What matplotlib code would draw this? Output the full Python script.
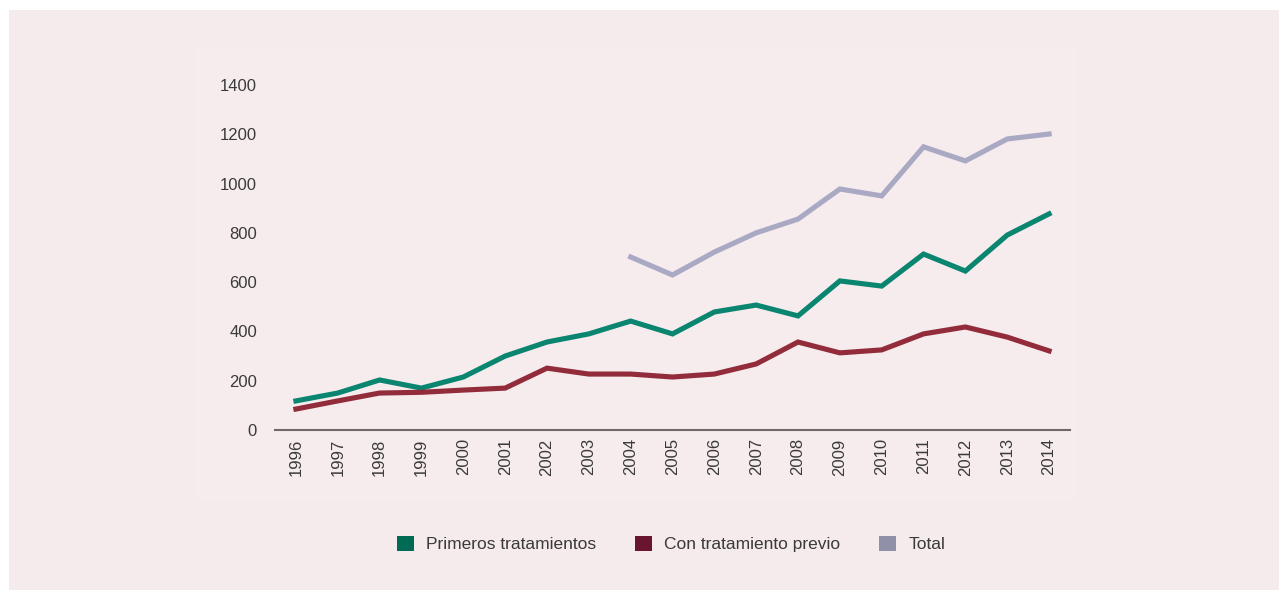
import numpy as np
import matplotlib.pyplot as plt
from matplotlib.patches import Patch, Rectangle

years = list(range(1996, 2015))
primeros = [118, 150, 203, 170, 215, 300, 357, 390, 442, 390, 479, 507, 463, 605, 584, 714, 645, 791, 877]
previo = [85, 118, 150, 153, 162, 170, 251, 227, 227, 215, 227, 268, 357, 313, 325, 390, 418, 377, 321]
total_years = list(range(2004, 2015))
total = [702, 629, 722, 800, 856, 978, 950, 1149, 1092, 1181, 1201]

c_green = "#0a8570"
c_red = "#922c3b"
c_gray = "#a9a9c4"
txt = "#3a3a3a"

W, H = 1284, 592
fig = plt.figure(figsize=(W / 100, H / 100), dpi=100)
fig.patch.set_facecolor("white")
fig.add_artist(Rectangle((9 / W, 1 - 590 / H), 1270 / W, 580 / H,
                         transform=fig.transFigure, facecolor="#f5eaec",
                         edgecolor="none", zorder=-2))
fig.add_artist(Rectangle((196 / W, 1 - 500 / H), 880 / W, 452 / H,
                         transform=fig.transFigure, facecolor="#f6ecee",
                         edgecolor="none", zorder=-1))

ax = fig.add_axes([275 / W, 1 - 430 / H, 795 / W, 345 / H])
ax.set_facecolor("none")

ax.plot(years, primeros, color=c_green, lw=3.7, solid_joinstyle="miter")
ax.plot(years, previo, color=c_red, lw=3.7, solid_joinstyle="miter")
ax.plot(total_years, total, color=c_gray, lw=3.7, solid_joinstyle="miter")

ax.set_xlim(1995.5, 2014.5)
ax.set_ylim(0, 1400)
ax.set_yticks(range(0, 1401, 200))
ax.set_xticks(years)
ax.set_xticklabels([str(y) for y in years], rotation=90)
for s in ["top", "right", "left"]:
    ax.spines[s].set_visible(False)
ax.spines["bottom"].set_color("#6e6868")
ax.spines["bottom"].set_linewidth(1.5)
ax.tick_params(axis="both", length=0, labelsize=12, labelcolor=txt)
ax.tick_params(axis="y", pad=13)
ax.tick_params(axis="x", pad=6)
for lab in ax.get_xticklabels() + ax.get_yticklabels():
    lab.set_family("Liberation Sans")

handles = [Patch(facecolor="#006b55", label="Primeros tratamientos"),
           Patch(facecolor="#6a1530", label="Con tratamiento previo"),
           Patch(facecolor="#9090a8", label="Total")]
leg = fig.legend(handles=handles, loc="center", ncol=3,
                 bbox_to_anchor=(671 / W, 1 - 544 / H), frameon=False,
                 prop={"family": "Liberation Sans", "size": 12.5},
                 handlelength=1.0, handleheight=1.0, columnspacing=2.2,
                 handletextpad=0.7)
for t in leg.get_texts():
    t.set_color(txt)

fig.savefig("out.png", dpi=100)
